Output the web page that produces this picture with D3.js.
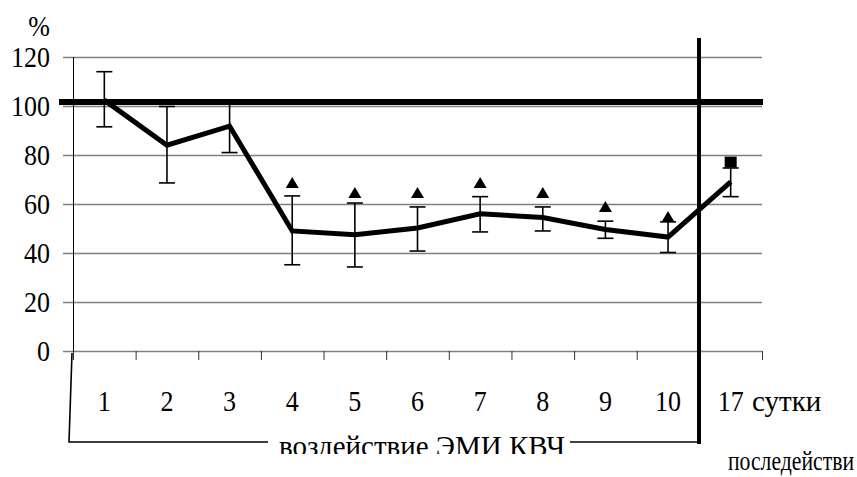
<!DOCTYPE html>
<html>
<head>
<meta charset="utf-8">
<script src="https://cdn.jsdelivr.net/npm/d3@7"></script>
<style>
	body { margin: 0; background: #fff; }
	text { font-family: 'Liberation Serif', 'DejaVu Serif', serif; fill: #000; }
</style>
</head>
<body>
<div id="chart"></div>
<script>
//Chart data
const categories = ['1','2','3','4','5','6','7','8','9','10','17'];
const means = [102.4, 84, 91.8, 49, 47.5, 50.2, 56, 54.5, 49.6, 46.5, 69];
const errTop = [114, 99.8, 101, 63.3, 60.4, 58.8, 63, 58.8, 53, 52.7, 74.7];
const errBottom = [91.5, 68.6, 81, 35.2, 34.3, 40.8, 48.6, 49, 46, 40.2, 63];
const triangleCats = ['4','5','6','7','8','9','10'];
const triangleValues = [68.6, 64.5, 64.5, 68.6, 64.5, 58.8, 54.7];
const squareCats = ['17'];
const squareValues = [77.3];
const yTicks = [0, 20, 40, 60, 80, 100, 120];
const controlLevel = 101.6;

const serif = "'Liberation Serif', 'DejaVu Serif', serif";

const w = 857;
const h = 477;
const plot = d3.select('#chart').append('svg')
	.attr('width', w)
	.attr('height', h);

//The scanned figure is a little taller than wide, so text is stretched
function label(x0, y0, txt, size, sy, anchor){
	return plot.append('g')
		.attr('transform', `translate(${x0},${y0}) scale(1,${sy})`)
		.append('text')
		.attr('text-anchor', anchor || 'start')
		.attr('font-family', serif)
		.attr('font-size', size)
		.text(txt);
}

//Scales
const x = d3.scaleBand().domain(categories).range([73, 762]);
const y = d3.scaleLinear().domain([0, 120]).range([351, 57]);
const cx = d => x(d) + x.bandwidth() / 2;

//Gridlines
plot.selectAll('.grid')
	.data(yTicks)
	.enter()
	.append('line')
	.attr('class', 'grid')
	.attr('x1', 63)
	.attr('x2', 762)
	.attr('y1', d => y(d) + 0.5)
	.attr('y2', d => y(d) + 0.5)
	.style('stroke', '#808080')
	.style('stroke-width', '1.5px');

//Y axis
const yAxis = d3.axisLeft(y).tickValues(yTicks).tickSize(0).tickPadding(23);
const gy = plot.append('g')
	.attr('transform', 'translate(73,0)')
	.call(yAxis);
gy.attr('font-family', serif).attr('font-size', 26);
gy.select('.domain').remove();
gy.selectAll('text')
	.attr('font-family', serif)
	.attr('font-size', 26)
	.attr('fill', '#000')
	.attr('dy', '0.3em')
	.attr('transform', 'scale(1,1.17)');

plot.append('line')
	.attr('x1', 73.5).attr('x2', 73.5)
	.attr('y1', y(120)).attr('y2', 360)
	.style('stroke', '#000')
	.style('stroke-width', '1px');

//Category ticks below axis
const tickXs = categories.map(c => x(c)).concat([x.range()[1]]);
plot.selectAll('.xtick')
	.data(tickXs)
	.enter()
	.append('line')
	.attr('class', 'xtick')
	.attr('x1', d => d + 0.5)
	.attr('x2', d => d + 0.5)
	.attr('y1', y(0))
	.attr('y2', 360)
	.style('stroke', '#333')
	.style('stroke-width', '1px');

//Category labels
categories.forEach(c => label(cx(c), 411, c, 26, 1.17, 'middle'));
label(752, 411, 'сутки', 29, 1.05);
label(50, 36, '%', 26, 1.1, 'end');

//Control level line
plot.append('line')
	.attr('x1', 59).attr('x2', 763)
	.attr('y1', y(controlLevel)).attr('y2', y(controlLevel))
	.style('stroke', '#000')
	.style('stroke-width', '6px');

//Error bars
const bars = plot.selectAll('.err')
	.data(categories)
	.enter()
	.append('g')
	.attr('class', 'err');
bars.append('line')
	.attr('x1', d => cx(d)).attr('x2', d => cx(d))
	.attr('y1', (d, i) => y(errTop[i]))
	.attr('y2', (d, i) => y(errBottom[i]));
bars.append('line')
	.attr('x1', d => cx(d) - 8).attr('x2', d => cx(d) + 8)
	.attr('y1', (d, i) => y(errTop[i]))
	.attr('y2', (d, i) => y(errTop[i]));
bars.append('line')
	.attr('x1', d => cx(d) - 8).attr('x2', d => cx(d) + 8)
	.attr('y1', (d, i) => y(errBottom[i]))
	.attr('y2', (d, i) => y(errBottom[i]));
bars.selectAll('line')
	.style('stroke', '#000')
	.style('stroke-width', '1.6px');

//Mean line
const line = d3.line()
	.x((d, i) => cx(categories[i]))
	.y(d => y(d));
plot.append('path')
	.datum(means)
	.attr('d', line)
	.style('fill', 'none')
	.style('stroke', '#000')
	.style('stroke-width', '5px')
	.style('stroke-linejoin', 'miter');

//Significance markers
plot.selectAll('.tri')
	.data(triangleValues)
	.enter()
	.append('path')
	.attr('class', 'tri')
	.attr('transform', (d, i) => `translate(${cx(triangleCats[i])},${y(d)})`)
	.attr('d', 'M0,-6L6.5,5L-6.5,5Z')
	.style('fill', '#000');

plot.selectAll('.sq')
	.data(squareValues)
	.enter()
	.append('rect')
	.attr('class', 'sq')
	.attr('x', (d, i) => cx(squareCats[i]) - 6)
	.attr('y', d => y(d) - 5)
	.attr('width', 12)
	.attr('height', 11)
	.style('fill', '#000');

//Separator between exposure and aftereffect
plot.append('line')
	.attr('x1', 699).attr('x2', 699)
	.attr('y1', 38).attr('y2', 444)
	.style('stroke', '#000')
	.style('stroke-width', '4px');

//Bracket under the exposure days
plot.append('path')
	.attr('d', 'M72,353L69,442L268,442')
	.style('fill', 'none')
	.style('stroke', '#000')
	.style('stroke-width', '1.6px');
plot.append('line')
	.attr('x1', 570).attr('x2', 701)
	.attr('y1', 442).attr('y2', 442)
	.style('stroke', '#000')
	.style('stroke-width', '1.6px');

plot.append('clipPath')
	.attr('id', 'cut')
	.append('rect')
	.attr('x', 0).attr('y', 0)
	.attr('width', w).attr('height', 454);
plot.append('g')
	.attr('clip-path', 'url(#cut)')
	.append('g')
	.attr('transform', 'translate(422,456) scale(1,1.05)')
	.append('text')
	.attr('text-anchor', 'middle')
	.attr('font-family', serif)
	.attr('font-size', 29)
	.text('воздействие ЭМИ КВЧ');

label(728, 470, 'последействи', 24, 1.1)
	.attr('textLength', 126)
	.attr('lengthAdjust', 'spacingAndGlyphs');
</script>
</body>
</html>
